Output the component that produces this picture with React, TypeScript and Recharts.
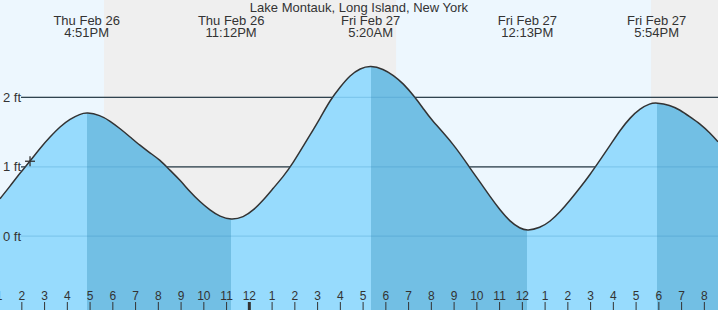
import {
  ComposedChart,
  Area,
  Scatter,
  XAxis,
  YAxis,
  ReferenceArea,
  ReferenceLine,
} from "recharts";

const W = 718;
const H = 310;

// hours counted from Thu Feb 26 00:00
const T0 = 13.04;
const T1 = 44.6;
const Y0 = -1.065;
const Y1 = 3.405;

const hours = [
  13.04, 13.48, 13.92, 14.36, 14.8, 15.24, 15.68, 16.12, 16.56, 16.85, 17.44,
  17.88, 18.32, 18.76, 19.19, 19.63, 20.07, 20.51, 20.95, 21.39, 21.83, 22.27,
  22.71, 23.2, 23.74, 24.18, 24.62, 25.05, 25.49, 25.86, 26.67, 27.11,
  27.55, 27.99, 28.43, 28.87, 29.33, 29.89, 30.33, 30.77, 31.21, 31.65, 31.94,
  33.0, 33.7, 34.14, 34.58, 35.02, 35.46, 35.9, 36.22, 36.78, 37.22, 37.66,
  38.1, 38.54, 38.98, 39.42, 39.86, 40.3, 40.74, 41.18, 41.61, 41.9, 42.49,
  42.93, 43.37, 43.81, 44.24, 44.6,
];
const levels = [
  0.54, 0.72, 0.91, 1.08, 1.27, 1.43, 1.58, 1.69, 1.76, 1.785, 1.745, 1.66,
  1.55, 1.43, 1.31, 1.2, 1.1, 0.95, 0.81, 0.64, 0.495, 0.375, 0.28, 0.235,
  0.27, 0.375, 0.52, 0.69, 0.86, 1.02, 1.46, 1.7, 1.96, 2.15, 2.32, 2.42,
  2.46, 2.41, 2.32, 2.2, 2.03, 1.84, 1.7, 1.32, 0.98, 0.78, 0.57, 0.375, 0.21,
  0.11, 0.077, 0.12, 0.21, 0.35, 0.52, 0.7, 0.89, 1.1, 1.31, 1.53, 1.71, 1.84,
  1.915, 1.925, 1.89, 1.82, 1.72, 1.62, 1.49, 1.36,
];

const eventTimes = [16.85, 23.2, 29.33, 36.22, 41.9];
const eventLevels = [1.785, 0.235, 2.46, 0.077, 1.925];
const eventKinds = ["high", "low", "high", "low", "high"];
const eventDays = ["Thu Feb 26", "Thu Feb 26", "Fri Feb 27", "Fri Feb 27", "Fri Feb 27"];
const eventClock = ["4:51PM", "11:12PM", "5:20AM", "12:13PM", "5:54PM"];

const daySpans = [
  [13.04, 17.61],
  [30.45, 41.66],
];
const nightSpans = [
  [17.61, 30.45],
  [41.66, 44.6],
];

const hourTicks = [
  13, 14, 15, 16, 17, 18, 19, 20, 21, 22, 23, 24, 25, 26, 27, 28, 29, 30, 31,
  32, 33, 34, 35, 36, 37, 38, 39, 40, 41, 42, 43, 44,
];
const levelTicks = [0, 1, 2];
const nowMark = [{ t: 14.36, v: 1.08 }];

const data = hours.map((t, i) => ({ t, v: levels[i] }));
const events = eventTimes.map((t, i) => ({
  t,
  v: eventLevels[i],
  kind: eventKinds[i],
  day: eventDays[i],
  clock: eventClock[i],
}));
const levelLabels = levelTicks.map((v) => ({ t: T0, v }));

// falling tide (high -> next low) is drawn darker
const falling = events
  .map((e, i) => (e.kind === "high" ? [e.t, events[i + 1] ? events[i + 1].t : T1] : null))
  .filter(Boolean) as number[][];

const LIGHT = "#97dbfd";
const DARK = "#72bfe4";
const FONT = "'Liberation Sans', Arial, sans-serif";
const gridStart = T0 + (21 / W) * (T1 - T0);

const frac = (t: number) => (t - T0) / (T1 - T0);

function gradientStops() {
  const stops: any[] = [];
  let k = 0;
  stops.push(<stop key={k++} offset={0} stopColor={LIGHT} />);
  falling.forEach(([a, b]) => {
    stops.push(<stop key={k++} offset={frac(a)} stopColor={LIGHT} />);
    stops.push(<stop key={k++} offset={frac(a)} stopColor={DARK} />);
    stops.push(<stop key={k++} offset={frac(b)} stopColor={DARK} />);
    stops.push(<stop key={k++} offset={frac(b)} stopColor={LIGHT} />);
  });
  return stops;
}

function HourTick(props: any) {
  const { x, payload } = props;
  const h = payload.value;
  const midnight = h % 24 === 0;
  const label = h % 12 === 0 ? 12 : h % 12;
  return (
    <g>
      <line
        x1={x}
        x2={x}
        y1={H - 8}
        y2={H}
        stroke="#333"
        strokeWidth={midnight ? 3 : 1}
      />
      <text
        x={x}
        y={H - 14}
        textAnchor="middle"
        dominantBaseline="central"
        fontSize={12}
        fontFamily={FONT}
        fill="#333"
      >
        {label}
      </text>
    </g>
  );
}

function LevelLabel(props: any) {
  const { cy, payload } = props;
  return (
    <text
      x={3}
      y={cy}
      dominantBaseline="central"
      fontSize={13}
      fontFamily={FONT}
      fill="#333"
    >
      {payload.v} ft
    </text>
  );
}

function EventLabel(props: any) {
  const { cx, payload } = props;
  return (
    <g fontFamily={FONT} fontSize={13} fill="#333" textAnchor="middle">
      <text x={cx} y={20} dominantBaseline="central">
        {payload.day}
      </text>
      <text x={cx} y={32} dominantBaseline="central">
        {payload.clock}
      </text>
    </g>
  );
}

function Cross(props: any) {
  const { cx, cy } = props;
  return (
    <g stroke="#333" strokeWidth={1.3}>
      <line x1={cx - 5} x2={cx + 5} y1={cy} y2={cy} />
      <line x1={cx} x2={cx} y1={cy - 5} y2={cy + 5} />
    </g>
  );
}

export default function App() {
  return (
    <div
      style={{
        position: "absolute",
        left: 0,
        top: 0,
        width: W,
        height: H,
        background: "#edf7fe",
        fontFamily: FONT,
      }}
    >
      <ComposedChart
        width={W}
        height={H}
        data={data}
        margin={{ top: 0, right: 0, bottom: 0, left: 0 }}
      >
        <defs>
          <linearGradient id="tideFill" x1="0" y1="0" x2="1" y2="0">
            {gradientStops()}
          </linearGradient>
        </defs>
        <XAxis
          type="number"
          dataKey="t"
          domain={[T0, T1]}
          ticks={hourTicks}
          interval={0}
          mirror
          axisLine={false}
          tickLine={false}
          tick={<HourTick />}
          allowDataOverflow
        />
        <YAxis
          type="number"
          domain={[Y0, Y1]}
          ticks={levelTicks}
          hide
          allowDataOverflow
        />
        {daySpans.map(([a, b], i) => (
          <ReferenceArea
            key={"d" + i}
            x1={a}
            x2={b}
            y1={Y0}
            y2={Y1}
            fill="#edf7fe"
            fillOpacity={1}
            stroke="none"
            zIndex={10}
          />
        ))}
        {nightSpans.map(([a, b], i) => (
          <ReferenceArea
            key={"n" + i}
            x1={a}
            x2={b}
            y1={Y0}
            y2={Y1}
            fill="#efefef"
            fillOpacity={1}
            stroke="none"
            zIndex={10}
          />
        ))}
        {levelTicks.map((v) => (
          <ReferenceLine
            key={"g" + v}
            segment={[
              { x: gridStart, y: v },
              { x: T1, y: v },
            ]}
            stroke="#333"
            strokeWidth={1.2}
            zIndex={50}
          />
        ))}
        <Area
          type="basis"
          dataKey="v"
          stroke="#333"
          strokeWidth={1.5}
          fill="url(#tideFill)"
          fillOpacity={1}
          baseValue={Y0}
          dot={false}
          activeDot={false}
          isAnimationActive={false}
        />
        {levelTicks.map((v) => (
          <ReferenceLine
            key={"f" + v}
            segment={[
              { x: gridStart, y: v },
              { x: T1, y: v },
            ]}
            stroke="#2a80b5"
            strokeOpacity={0.22}
            strokeWidth={1.2}
          />
        ))}
        <Scatter
          data={levelLabels}
          dataKey="v"
          shape={<LevelLabel />}
          isAnimationActive={false}
        />
        <Scatter
          data={nowMark}
          dataKey="v"
          shape={<Cross />}
          isAnimationActive={false}
        />
        <Scatter
          data={events}
          dataKey="v"
          shape={<EventLabel />}
          isAnimationActive={false}
        />
      </ComposedChart>
      <div
        style={{
          position: "absolute",
          left: 0,
          top: 0,
          width: W,
          textAlign: "center",
          fontSize: 13,
          lineHeight: "15px",
          color: "#333",
          pointerEvents: "none",
        }}
      >
        Lake Montauk, Long Island, New York
      </div>
    </div>
  );
}
